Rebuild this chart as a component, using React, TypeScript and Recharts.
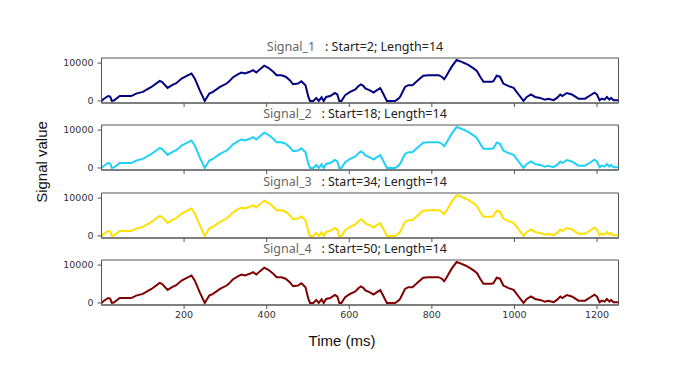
import React from 'react';
import { LineChart, Line, XAxis, YAxis, ReferenceArea } from 'recharts';

// time (ms) and value of the signal
const times = [
  0, 6, 16, 21, 25, 30, 44, 72, 84, 100, 121, 141, 147, 160, 173, 181, 194, 210, 218, 226,
  238, 250, 261, 270, 287, 303, 308, 318, 331, 339, 347, 359, 367, 375, 384, 394, 404, 416,
  424, 436, 446, 456, 464, 476, 484, 494, 501, 505, 513, 520, 526, 533, 538, 544, 554, 565,
  571, 576, 581, 590, 602, 614, 622, 628, 634, 639, 650, 659, 666, 675, 682, 691, 711, 719,
  723, 735, 743, 753, 767, 779, 792, 816, 824, 830, 836, 848, 860, 868, 881, 889, 901, 909,
  917, 925, 945, 949, 957, 965, 973, 986, 998, 1010, 1022, 1030, 1040, 1050, 1062, 1074,
  1082, 1095, 1103, 1111, 1116, 1127, 1139, 1155, 1171, 1184, 1194, 1200, 1206, 1212, 1218,
  1224, 1230, 1234, 1240, 1252,
];

const signalValues = [
  0, 600, 1300, 1150, 0, 100, 1300, 1300, 1950, 2400, 3700, 5300, 5000, 3450, 4300, 4700, 5900, 6800, 7250, 5900,
  2800, 0, 1950, 2400, 3700, 4600, 5050, 6200, 7100, 7500, 7250, 7700, 8150, 7500, 8400, 9300, 8750, 7700,
  6800, 6800, 6400, 5500, 4400, 4600, 5200, 4150, 1050, 0, 0, 800, 0, 950, 0, 1050, 1300, 2100,
  1700, 0, 0, 1500, 2400, 3000, 3900, 4350, 4000, 3300, 2800, 2200, 2800, 3400, 1950, 0, 0, 600,
  1050, 3700, 4150, 4150, 5500, 6650, 6800, 6800, 6400, 5750, 6800, 9050, 10800, 10500, 9900, 9450, 8600, 7900,
  6400, 5050, 5050, 5200, 6650, 6400, 4600, 3900, 3450, 1700, 0, 1050, 1700, 1050, 800, 350,
  600, 200, 800, 1700, 1300, 2100, 1700, 600, 600, 1500, 2200, 1700, 200, 600, 350,
  1050, 350, 800, 200, 200,
];

const signalNames = ['Signal_1', 'Signal_2', 'Signal_3', 'Signal_4'];
const starts = [2, 18, 34, 50];
const lengths = [14, 14, 14, 14];
const colors = ['#000080', '#1fd0f7', '#ffe000', '#800000'];

const xTicks = [200, 400, 600, 800, 1000, 1200];
const yTicks = [0, 10000];
const xDomain = [0, 1252];
const yDomain = [-540, 11340];

const data = times.map((t, i) => ({ t, v: signalValues[i] }));

const tickStyle = { fontSize: 9.5, fill: '#333', fontFamily: 'DejaVu Sans' };
const axisColor = '#555';

export default function App() {
  return (
    <div
      style={{
        position: 'absolute',
        left: 0,
        top: 0,
        width: 682,
        height: 379,
        background: '#fff',
        fontFamily: 'Liberation Sans, Arial, sans-serif',
      }}
    >
      {signalNames.map((name, i) => {
        const boxTop = 58 + i * 67.4;
        const last = i === signalNames.length - 1;
        return (
          <React.Fragment key={name}>
            <div
              style={{
                position: 'absolute',
                left: 155,
                width: 400,
                top: boxTop - 19,
                textAlign: 'center',
                whiteSpace: 'pre',
                fontFamily: 'Noto Sans',
                fontSize: 12.5,
                lineHeight: '16px',
              }}
            >
              <span style={{ color: '#666' }}>{name}</span>
              <span style={{ color: '#222' }}>{`   : Start=${starts[i]}; Length=${lengths[i]}`}</span>
            </div>
            <div style={{ position: 'absolute', left: 0, top: boxTop - 10 }}>
              <LineChart
                width={682}
                height={10 + 45 + (last ? 25 : 6)}
                data={data}
                margin={{ top: 10, right: 63.5, left: 61.5, bottom: 0 }}
              >
                <XAxis
                  dataKey="t"
                  type="number"
                  domain={xDomain}
                  ticks={xTicks}
                  allowDataOverflow
                  height={last ? 25 : 6}
                  tickSize={4}
                  tickMargin={2}
                  tick={tickStyle}
                  tickFormatter={last ? undefined : () => ''}
                  stroke={axisColor}
                />
                <YAxis
                  type="number"
                  domain={yDomain}
                  ticks={yTicks}
                  allowDataOverflow
                  width={40}
                  tickSize={4}
                  tickMargin={4}
                  tick={tickStyle}
                  stroke={axisColor}
                />
                {/* frame round the plot area */}
                <ReferenceArea
                  x1={xDomain[0]}
                  x2={xDomain[1]}
                  y1={yDomain[0]}
                  y2={yDomain[1]}
                  fill="none"
                  fillOpacity={0}
                  stroke={axisColor}
                  strokeOpacity={1}
                  strokeWidth={1}
                />
                <Line
                  type="linear"
                  dataKey="v"
                  stroke={colors[i]}
                  strokeWidth={2}
                  dot={false}
                  isAnimationActive={false}
                />
              </LineChart>
            </div>
          </React.Fragment>
        );
      })}
      <div
        style={{
          position: 'absolute',
          left: 41,
          top: 162,
          transform: 'translate(-50%, -50%) rotate(-90deg)',
          fontSize: 15,
          color: '#111',
          whiteSpace: 'nowrap',
        }}
      >
        Signal value
      </div>
      <div
        style={{
          position: 'absolute',
          left: 342,
          top: 340,
          transform: 'translate(-50%, -50%)',
          fontSize: 15,
          color: '#111',
          whiteSpace: 'nowrap',
        }}
      >
        Time (ms)
      </div>
    </div>
  );
}
